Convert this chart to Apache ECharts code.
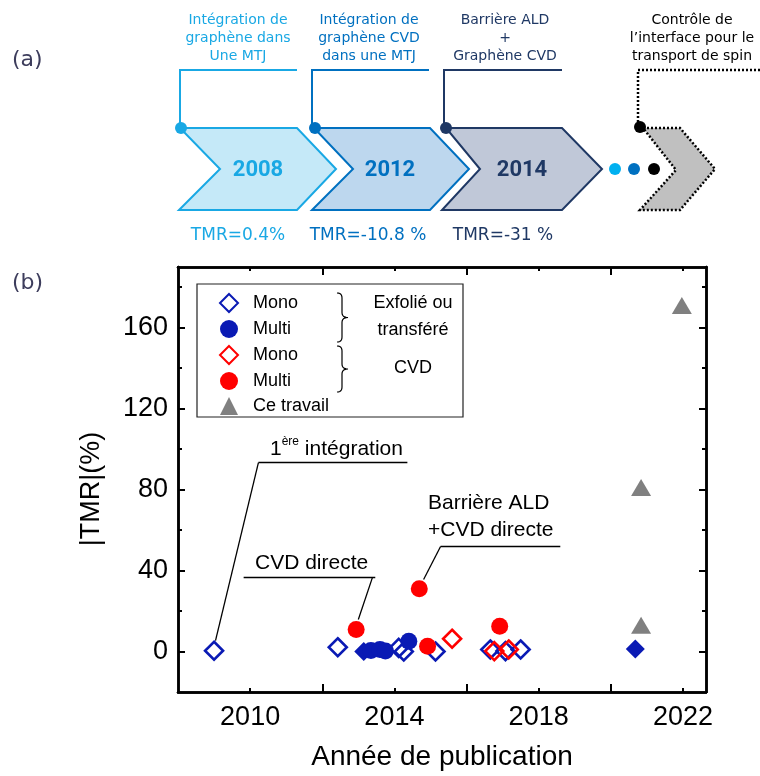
<!DOCTYPE html>
<html>
<head>
<meta charset="utf-8">
<script src="https://cdn.jsdelivr.net/npm/echarts@6/dist/echarts.min.js"></script>
<style>html,body{margin:0;padding:0;background:#fff}#c{width:760px;height:776px}</style>
</head>
<body>
<div id="c"></div>
<script>
// ---- data (panel b) ----
const monoExfolie = [[2009.0,0.4],[2012.43,2.1],[2014.12,1.8],[2014.26,0],[2015.14,0],[2016.66,1],[2017.08,0.2],[2017.5,1]];
const multiExfolie = [[2013.35,0.5],[2013.6,1.0],[2013.75,0.3],[2014.40,5.1]];
const filledDiamondExfolie = [[2013.15,0],[2020.68,1.3]];
const monoCVD = [[2015.6,6.3],[2016.77,0.2],[2017.17,1]];
const multiCVD = [[2012.94,10.9],[2014.69,31],[2014.92,2.6],[2016.92,12.5]];
const ceTravail = [[2020.84,13],[2020.84,81],[2021.97,171]];
const xLabelTicks = [2010,2014,2018,2022];
const xLongTicks = [2012,2016,2020];
const yMajorTicks = [0,40,80,120,160];
const yMinorTicks = [20,60,100,140,180];
const legendNames = ['Mono','Multi','Mono ','Multi ','Ce travail'];
// annotation leader lines, in data coordinates
const annotLines = [
  [[2010.23,93.3],[2014.36,93.3]],
  [[2010.23,93.3],[2009.04,5.4]],
  [[2009.82,36.5],[2013.47,36.5]],
  [[2013.39,36.5],[2013.0,15.8]],
  [[2015.28,51.9],[2018.6,51.9]],
  [[2015.28,51.9],[2014.81,35.6]]
];
// ---- panel (a) content ----
const timelineYears = ['2008','2012','2014'];
const timelineTMR = ['TMR=0.4%','TMR=-10.8 %','TMR=-31 %'];
const timelineTitles = [
  ['Intégration de','graphène dans','Une MTJ'],
  ['Intégration de','graphène CVD','dans une MTJ'],
  ['Barrière ALD','+','Graphène CVD'],
  ['Contrôle de','l\u2019interface pour le','transport de spin']
];

const xMin = 2008, xMax = 2022.64, yMin = -20, yMax = 190;
const BLUE = '#0a1ab4', RED = '#ff0000', GRAY = '#808080';
const FONT = 'Liberation Sans, Arial, sans-serif';
const AFONT = 'DejaVu Sans, sans-serif';

function xAx(pos, ticks, len, labels, name) {
  return {
    type:'value', min:xMin, max:xMax, position:pos,
    name: name || '', nameLocation:'middle', nameGap:51,
    nameTextStyle:{fontSize:28, fontFamily:FONT, color:'#000'},
    axisLine:{show:true, onZero:false, lineStyle:{color:'#000', width:2.5}},
    axisTick:{show:true, inside:true, length:len, customValues:ticks, lineStyle:{color:'#000', width:2}},
    axisLabel:{show:labels, customValues:ticks, fontSize:27, fontFamily:FONT, color:'#000', margin:12, formatter:(v)=>String(v)},
    splitLine:{show:false}
  };
}
function yAx(pos, ticks, len, labels) {
  return {
    type:'value', min:yMin, max:yMax, position:pos,
    axisLine:{show:true, onZero:false, lineStyle:{color:'#000', width:2.5}},
    axisTick:{show:true, inside:true, length:len, customValues:ticks, lineStyle:{color:'#000', width:2}},
    axisLabel:{show:labels, customValues:ticks, fontSize:27, fontFamily:FONT, color:'#000', margin:10, formatter:(v)=>String(v)},
    splitLine:{show:false}
  };
}

const openDiamond = (c) => ({color:'rgba(255,255,255,0)', borderColor:c, borderWidth:2.6, opacity:1});

// ---- panel (a) graphics ----
const A = [];
const LIGHT = '#19a8e4', MID = '#0070c0', DARK = '#1f3864';
const chevrons = [
  {pts:[[180,128],[297,128],[336,169],[297,210],[179,210],[220,169]], fill:'#c5e9f8', stroke:LIGHT},
  {pts:[[314,128],[430,128],[469,169],[430,210],[312,210],[353,169]], fill:'#bdd7ee', stroke:MID},
  {pts:[[446,128],[562,128],[602,169],[562,210],[442,210],[480,169]], fill:'#c0c8d8', stroke:DARK}
];
const colsA = [LIGHT, MID, DARK];
const yearX = [258, 390, 522];
const tmrX = [238, 368, 503];
const titleX = [238, 369, 505, 692];
const callout = [
  {vx:180, hx:297, dot:[181,128]},
  {vx:312, hx:429, dot:[315,128]},
  {vx:444, hx:562, dot:[446,128]}
];
chevrons.forEach((c,i)=>{
  A.push({type:'polygon', shape:{points:c.pts}, style:{fill:c.fill, stroke:c.stroke, lineWidth:2}});
  A.push({type:'polyline', shape:{points:[[callout[i].vx,128],[callout[i].vx,70],[callout[i].hx,70]]}, style:{stroke:colsA[i], lineWidth:2, fill:null}});
  A.push({type:'circle', shape:{cx:callout[i].dot[0], cy:callout[i].dot[1], r:6}, style:{fill:colsA[i]}});
  A.push({type:'text', x:yearX[i], y:170, style:{text:timelineYears[i], font:'bold 22px Roboto, Arial, sans-serif', fill:colsA[i], align:'center', verticalAlign:'middle'}});
  A.push({type:'text', x:tmrX[i], y:236, style:{text:timelineTMR[i], font:'17px '+AFONT, fill:colsA[i], align:'center', verticalAlign:'middle'}});
  timelineTitles[i].forEach((t,j)=>{
    A.push({type:'text', x:titleX[i], y:20+18*j, style:{text:t, font:'14px '+AFONT, fill:colsA[i], align:'center', verticalAlign:'middle'}});
  });
});
// future chevron (dotted)
A.push({type:'polygon', shape:{points:[[643,128],[680,128],[715,169],[680,210],[640,210],[676,170]]}, style:{fill:'#c0c0c0', stroke:'#000', lineWidth:2.5, lineDash:[2,2]}});
A.push({type:'polyline', shape:{points:[[638,126],[638,70],[760,70]]}, style:{stroke:'#000', lineWidth:2.5, lineDash:[2,2], fill:null}});
A.push({type:'circle', shape:{cx:640, cy:127, r:6}, style:{fill:'#000'}});
timelineTitles[3].forEach((t,j)=>{
  A.push({type:'text', x:692, y:20+18*j, style:{text:t, font:'14px '+AFONT, fill:'#000', align:'center', verticalAlign:'middle'}});
});
[['#00b0f0',615],['#0070c0',634],['#000',654]].forEach(d=>{
  A.push({type:'circle', shape:{cx:d[1], cy:169, r:6}, style:{fill:d[0]}});
});
A.push({type:'text', x:12, y:60, style:{text:'(a)', font:'22px '+AFONT, fill:'#3d3d5c', align:'left', verticalAlign:'middle'}});
A.push({type:'text', x:12, y:283, style:{text:'(b)', font:'22px '+AFONT, fill:'#3d3d5c', align:'left', verticalAlign:'middle'}});

// ---- panel (b) extra graphics: axis title, legend box, braces, annotation texts ----
A.push({type:'text', x:92, y:489, rotation:Math.PI/2, style:{text:'|TMR|(%)', font:'27px '+FONT, fill:'#000', align:'center', verticalAlign:'middle'}, z:10});
A.push({type:'rect', shape:{x:197, y:284, width:266, height:133}, style:{fill:'none', stroke:'#222', lineWidth:1.2}, z:10});
function qpts(p0, c, p1, n) {
  const out = [];
  for (let k = 0; k <= n; k++) {
    const t = k / n, u = 1 - t;
    out.push([u*u*p0[0] + 2*u*t*c[0] + t*t*p1[0], u*u*p0[1] + 2*u*t*c[1] + t*t*p1[1]]);
  }
  return out;
}
function brace(y0, y1, x0) {
  const m = (y0 + y1) / 2, x1 = x0 + 5, x2 = x0 + 11;
  return [].concat(
    qpts([x0,y0],[x1,y0],[x1,y0+5],6),
    qpts([x1,m-5],[x1,m],[x2,m],6),
    qpts([x2,m],[x1,m],[x1,m+5],6),
    qpts([x1,y1-5],[x1,y1],[x0,y1],6)
  );
}
A.push({type:'polyline', shape:{points:brace(293,342,337)}, style:{fill:null, stroke:'#000', lineWidth:1.2}, z:10});
A.push({type:'polyline', shape:{points:brace(346,392,337)}, style:{fill:null, stroke:'#000', lineWidth:1.2}, z:10});
A.push({type:'text', x:413, y:303, style:{text:'Exfolié ou', font:'18px '+FONT, fill:'#000', align:'center', verticalAlign:'middle'}, z:10});
A.push({type:'text', x:413, y:330, style:{text:'transféré', font:'18px '+FONT, fill:'#000', align:'center', verticalAlign:'middle'}, z:10});
A.push({type:'text', x:413, y:368, style:{text:'CVD', font:'18px '+FONT, fill:'#000', align:'center', verticalAlign:'middle'}, z:10});
A.push({type:'text', x:270, y:448, style:{
  text:'{m|1}{s|ère}{m| intégration}', align:'left', verticalAlign:'middle',
  rich:{m:{fontSize:21, fontFamily:FONT, fill:'#000', verticalAlign:'bottom', lineHeight:24}, s:{fontSize:12, fontFamily:FONT, fill:'#000', verticalAlign:'top', lineHeight:24}}
}, z:10});
A.push({type:'text', x:255, y:563, style:{text:'CVD directe', font:'21px '+FONT, fill:'#000', align:'left', verticalAlign:'middle'}, z:10});
A.push({type:'text', x:428, y:503, style:{text:'Barrière ALD', font:'21px '+FONT, fill:'#000', align:'left', verticalAlign:'middle'}, z:10});
A.push({type:'text', x:428, y:530, style:{text:'+CVD directe', font:'21px '+FONT, fill:'#000', align:'left', verticalAlign:'middle'}, z:10});

const chart = echarts.init(document.getElementById('c'), null, {renderer:'canvas'});
chart.setOption({
  animation:false,
  backgroundColor:'#fff',
  grid:{left:178, right:54, top:267, bottom:84, containLabel:false, outerBoundsMode:'none'},
  xAxis:[
    xAx('bottom', xLabelTicks, 4, true, 'Année de publication'),
    xAx('bottom', xLongTicks, 8, false),
    xAx('top', xLabelTicks, 4, false),
    xAx('top', xLongTicks, 8, false)
  ],
  yAxis:[
    yAx('left', yMajorTicks, 7, true),
    yAx('left', yMinorTicks, 4, false),
    yAx('right', yMajorTicks, 7, false),
    yAx('right', yMinorTicks, 4, false)
  ],
  legend:{
    data:legendNames, orient:'vertical', left:219, top:293, itemWidth:18, itemHeight:18, itemGap:7,
    padding:0, selectedMode:false,
    textStyle:{fontSize:18, fontFamily:FONT, color:'#000', padding:[0,0,0,10]},
    formatter:(n)=>n.trim()
  },
  series:[
    {name:'Mono', type:'scatter', data:monoExfolie, symbol:'diamond', symbolSize:18, itemStyle:openDiamond(BLUE), silent:true, z:2},
    {name:'blue-filled-diamond', type:'scatter', data:filledDiamondExfolie, symbol:'diamond', symbolSize:19, itemStyle:{color:BLUE, opacity:1}, silent:true, z:2},
    {name:'Multi', type:'scatter', data:multiExfolie, symbol:'circle', symbolSize:17, itemStyle:{color:BLUE, opacity:1}, silent:true, z:2},
    {name:'Mono ', type:'scatter', data:monoCVD, symbol:'diamond', symbolSize:18, itemStyle:openDiamond(RED), silent:true, z:3},
    {name:'Multi ', type:'scatter', data:multiCVD, symbol:'circle', symbolSize:17, itemStyle:{color:RED, opacity:1}, silent:true, z:3},
    {name:'Ce travail', type:'scatter', data:ceTravail, symbol:'triangle', symbolSize:[20,17], itemStyle:{color:GRAY, opacity:1}, silent:true, z:3},
    {name:'annotations', type:'scatter', data:[], silent:true,
      markLine:{silent:true, symbol:['none','none'], label:{show:false}, lineStyle:{color:'#000', width:1.3, type:'solid'},
        emphasis:{disabled:true},
        data:annotLines.map(l=>[{coord:l[0]},{coord:l[1]}])}}
  ],
  graphic:A
});
</script>
</body>
</html>
